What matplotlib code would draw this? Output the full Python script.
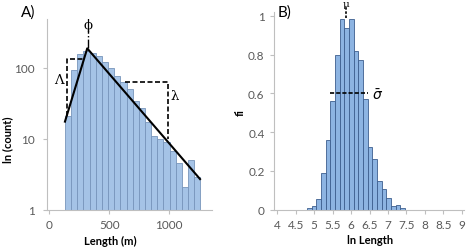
import matplotlib
matplotlib.use("Agg")
import matplotlib.pyplot as plt
import numpy as np

# panel A: length histogram (log counts)
len_start = 131.0
len_width = 51.4
len_counts = [21, 94, 156, 173, 161, 148, 119, 98, 76, 62, 50,
              34, 27, 17, 11, 10, 9, 6.8, 4.5, 2.07, 5.06, 2.86]
fit_x = [131, 317, 1259]
fit_y = [17.4, 187, 2.7]
lam_box_x = [145, 145, 284]
lam_box_y = [21, 132, 132]
lam2_box_x = [633, 994, 994]
lam2_box_y = [62, 62, 9.9]
phi_x = 320
phi_y = [187, 335]

# panel B: ln length histogram
ln_start = 4.805
ln_width = 0.1265
ln_freq = [0.007, 0.02, 0.053, 0.19, 0.36, 0.56, 0.80, 0.983, 0.94, 0.983,
           0.82, 0.77, 0.572, 0.324, 0.26, 0.15, 0.107, 0.06, 0.017, 0.026, 0.007]
mu_x = 5.86
mu_y = [0.99, 1.045]
sigma_x = [5.43, 6.47]
sigma_y = 0.6

plt.rcParams['font.family'] = ['Lato', 'DejaVu Sans']
grey = '#595959'
axc = '#bfbfbf'


def style_ax(ax):
    for s in ['top', 'right']:
        ax.spines[s].set_visible(False)
    for s in ['left', 'bottom']:
        ax.spines[s].set_color(axc)
        ax.spines[s].set_linewidth(0.8)
    ax.tick_params(colors=axc, labelcolor=grey, labelsize=8.5, length=3, width=0.8)


fig = plt.figure(figsize=(4.69, 2.51), dpi=100)

axA = fig.add_axes([47 / 469, 1 - 210.7 / 251, 165 / 469, 190.7 / 251])
n = len(len_counts)
edges = len_start + len_width * np.arange(n)
axA.bar(edges, len_counts, width=len_width, align='edge', bottom=0.01,
        color='#a5c3e6', edgecolor='#7895bb', linewidth=0.6)
axA.set_yscale('log')
axA.set_ylim(1, 485)
axA.set_xlim(-19, 1359)
axA.set_yticks([1, 10, 100])
axA.set_yticklabels(['1', '10', '100'])
axA.minorticks_off()
axA.set_xticks([0, 500, 1000])
style_ax(axA)
axA.tick_params(axis='y', pad=6)
axA.tick_params(axis='x', pad=4)
axA.plot(fit_x, fit_y, color='black', lw=1.5)
axA.plot(lam_box_x, lam_box_y, color='black', lw=1.2, ls=(0, (3, 1.5)))
axA.plot(lam2_box_x, lam2_box_y, color='black', lw=1.2, ls=(0, (3, 1.5)))
axA.plot([phi_x, phi_x], phi_y, color='black', lw=1.0, ls='-.', clip_on=False)
axA.text(84, 69, 'Λ', family='DejaVu Serif', fontsize=9.5, ha='center', va='center')
axA.text(1045, 40, 'λ', family='DejaVu Serif', fontsize=9.5, ha='center', va='center')
axA.text(326, 412, 'ϕ', family='DejaVu Serif', fontsize=9.5, ha='center', va='center',
         clip_on=False)

axB = fig.add_axes([274.3 / 469, 1 - 210.7 / 251, 189.7 / 469, 197.7 / 251])
m = len(ln_freq)
bedges = ln_start + ln_width * np.arange(m)
axB.bar(bedges, ln_freq, width=ln_width, align='edge',
        color='#8db4e2', edgecolor='#3d5f8f', linewidth=0.6)
axB.set_xlim(3.92, 9.06)
axB.set_ylim(0, 1.02)
axB.set_xticks(np.arange(4, 9.01, 0.5))
axB.set_xticklabels(['4', '4.5', '5', '5.5', '6', '6.5', '7', '7.5', '8', '8.5', '9'])
axB.set_yticks([0, 0.2, 0.4, 0.6, 0.8, 1])
axB.set_yticklabels(['0', '0.2', '0.4', '0.6', '0.8', '1'])
style_ax(axB)
axB.tick_params(axis='y', pad=4)
axB.tick_params(axis='x', pad=4)
axB.plot([mu_x, mu_x], mu_y, color='black', lw=1.2, ls=(0, (1.5, 1)), clip_on=False)
axB.plot(sigma_x, [sigma_y, sigma_y], color='black', lw=1.2, ls=(0, (2.5, 1.2)))
axB.text(mu_x, 1.063, 'μ', family='DejaVu Serif', fontsize=7.5, ha='center', va='center',
         clip_on=False)
axB.text(6.72, 0.6, r'$\bar{\sigma}$', fontsize=10, ha='center', va='center')

fig.text(28 / 469, 1 - 13 / 251, 'A)', fontsize=11, ha='center', va='center')
fig.text(285 / 469, 1 - 13 / 251, 'B)', fontsize=11, ha='center', va='center')
fig.text(7.5 / 469, 1 - 140 / 251, 'ln (count)', fontsize=8, weight='bold',
         rotation=90, ha='center', va='center')
fig.text(110 / 469, 1 - 241 / 251, 'Length (m)', fontsize=8, weight='bold',
         ha='center', va='center')
fig.text(370 / 469, 1 - 241 / 251, 'ln Length', fontsize=8, weight='bold',
         ha='center', va='center')
fig.text(240 / 469, 1 - 113 / 251, 'fi', fontsize=8, weight='bold',
         rotation=90, ha='center', va='center')

fig.savefig('out.png', dpi=100)
